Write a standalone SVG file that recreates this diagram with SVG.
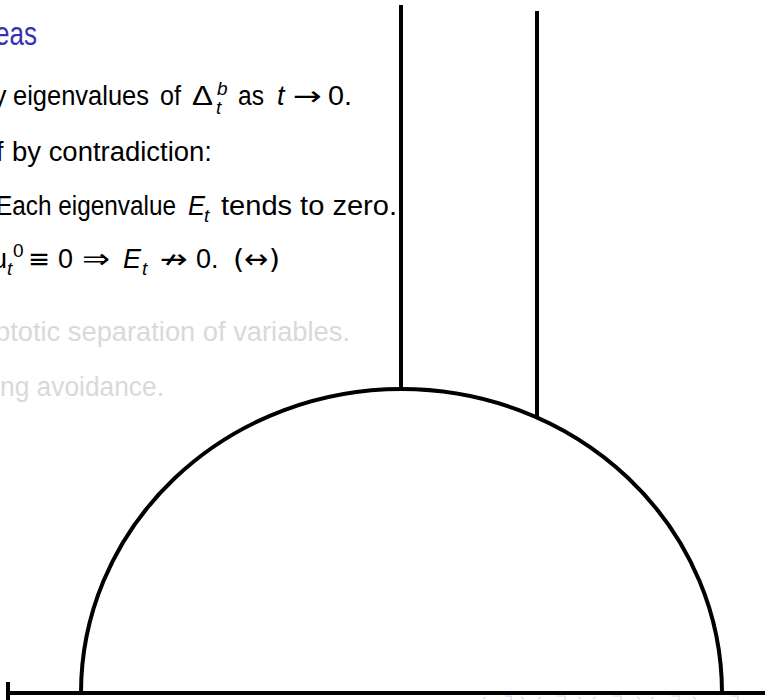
<svg xmlns="http://www.w3.org/2000/svg" width="765" height="700" viewBox="0 0 765 700">
<style>
text{font-family:"Liberation Sans","DejaVu Sans",sans-serif;}
.b{font-size:27px;fill:#000;}
.g{font-size:27px;fill:#d9d9d9;}
.s{font-size:19px;fill:#000;}
.i{font-style:italic;}
.m{font-family:"DejaVu Sans",sans-serif;}
.t{font-size:34px;fill:#3333b3;}
.ln{stroke:#000;stroke-width:4;fill:none;stroke-linecap:butt;}
.nav{fill:none;stroke:#d4d4ee;stroke-width:1.2;}
</style>
<rect width="765" height="700" fill="#fff"/>
<g id="title"><text class="t" x="-5" y="45" textLength="42" lengthAdjust="spacingAndGlyphs">eas</text></g>
<g id="line1">
<text class="b" x="-7" y="105">y</text>
<text class="b" x="13" y="105" textLength="136" lengthAdjust="spacingAndGlyphs">eigenvalues</text>
<text class="b" x="160" y="105" textLength="21" lengthAdjust="spacingAndGlyphs">of</text>
<text class="b" x="192" y="105" textLength="21" lengthAdjust="spacingAndGlyphs">Δ</text>
<text class="s i" x="217" y="95">b</text>
<text class="s i" x="216" y="114">t</text>
<text class="b" x="238" y="105" textLength="26" lengthAdjust="spacingAndGlyphs">as</text>
<text class="b i" x="277" y="105">t</text>
<text class="b m" x="293" y="105" textLength="29" lengthAdjust="spacingAndGlyphs">→</text>
<text class="b" x="328" y="105" textLength="24" lengthAdjust="spacingAndGlyphs">0.</text>
</g>
<g id="line2">
<text class="b" x="-4" y="161">f</text>
<text class="b" x="12" y="161" textLength="200" lengthAdjust="spacingAndGlyphs">by contradiction:</text>
</g>
<g id="line3">
<text class="b" x="-4" y="215" textLength="180" lengthAdjust="spacingAndGlyphs">Each eigenvalue</text>
<text class="b i" x="188" y="215" textLength="17" lengthAdjust="spacingAndGlyphs">E</text>
<text class="s i" x="204" y="222">t</text>
<text class="b" x="221" y="215" textLength="176" lengthAdjust="spacingAndGlyphs">tends to zero.</text>
</g>
<g id="line4">
<text class="b" x="-8" y="268">u</text>
<text class="s i" x="7" y="275">t</text>
<text class="s" x="13" y="257">0</text>
<text class="b m" x="28" y="268" textLength="22" lengthAdjust="spacingAndGlyphs">≡</text>
<text class="b" x="58" y="268" textLength="15" lengthAdjust="spacingAndGlyphs">0</text>
<text class="b m" x="82" y="268" textLength="28" lengthAdjust="spacingAndGlyphs">⇒</text>
<text class="b i" x="123" y="268" textLength="18" lengthAdjust="spacingAndGlyphs">E</text>
<text class="s i" x="142" y="275">t</text>
<text class="b m" x="160" y="268" textLength="28" lengthAdjust="spacingAndGlyphs">↛</text>
<text class="b" x="196" y="268">0.</text>
<text class="b m" x="233" y="268" textLength="47" lengthAdjust="spacingAndGlyphs">(↔)</text>
</g>
<g id="line5"><text class="g" x="-5" y="341" textLength="355" lengthAdjust="spacingAndGlyphs">ptotic separation of variables.</text></g>
<g id="line6"><text class="g" x="0" y="396" textLength="164" lengthAdjust="spacingAndGlyphs">ng avoidance.</text></g>
<g id="nav">
<path class="nav" d="M486 697l-3 2M505 696h6v4M521 697l3 2M541 697l-3 2M557 696h8v4M578 697l3 2M596 697l-3 2M613 696h8v4M637 697l3 2M654 697l-3 2M671 696h8v4M693 697l3 2M731 696h7v4"/>
</g>
<g id="connectors">
<line class="ln" x1="401" y1="5" x2="401" y2="390"/>
<line class="ln" x1="537" y1="11" x2="537" y2="419"/>
<path class="ln" d="M81 693 A320.5 304 0 0 1 722 693" stroke-width="3.6"/>
<line class="ln" x1="8" y1="693" x2="765" y2="693"/>
<line class="ln" x1="8" y1="682" x2="8" y2="700" stroke-width="3"/>
</g>
</svg>
